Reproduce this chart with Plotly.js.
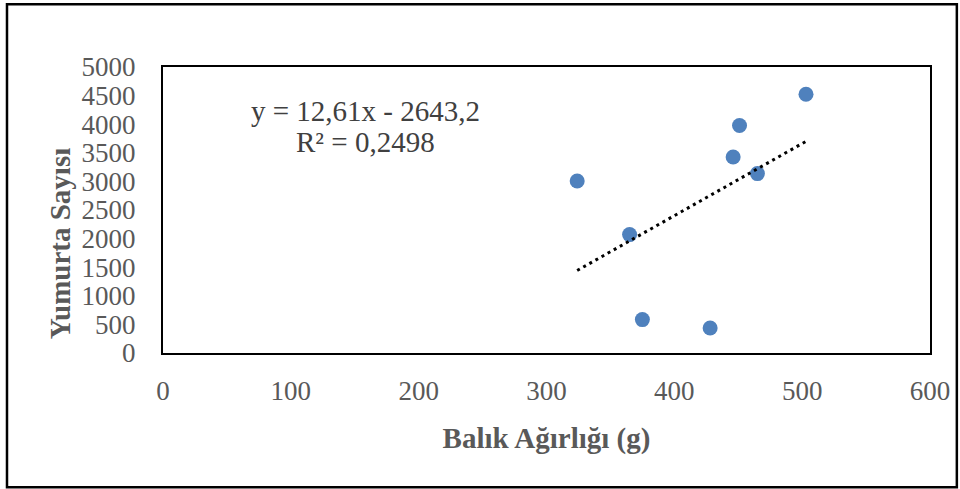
<!DOCTYPE html>
<html>
<head>
<meta charset="utf-8">
<script src="https://cdn.plot.ly/plotly-3.0.1.min.js"></script>
<style>html,body{margin:0;padding:0;background:#fff;}#chart{width:960px;height:489px;}</style>
</head>
<body>
<div id="chart"></div>
<script>
// Data
const balikAgirligi = [324, 365, 375, 428, 446, 451, 465, 503];
const yumurtaSayisi = [3007, 2070, 584, 437, 3427, 3976, 3136, 4523];
const trendSlope = 12.61;
const trendIntercept = -2643.2;
const rSquared = 0.2498;
const xTicks = [0, 100, 200, 300, 400, 500, 600];
const yTicks = [0, 500, 1000, 1500, 2000, 2500, 3000, 3500, 4000, 4500, 5000];

const fmt = (v, d) => v.toFixed(d).replace('.', ',');

const xMin = Math.min(...balikAgirligi), xMax = Math.max(...balikAgirligi);
const trendX = [xMin, xMax];
const trendY = trendX.map(x => trendSlope * x + trendIntercept);

const traces = [
  {
    x: balikAgirligi, y: yumurtaSayisi, type: 'scatter', mode: 'markers',
    marker: {size: 15, color: '#4F81BD'}, hoverinfo: 'x+y', showlegend: false
  },
  {
    x: trendX, y: trendY, type: 'scatter', mode: 'lines',
    line: {color: '#000000', width: 3, dash: '3px,4px'}, showlegend: false, hoverinfo: 'skip'
  }
];

const serif = '"Liberation Serif", "Times New Roman", serif';
const tickFont = {family: serif, size: 27, color: '#595959'};
const titleFont = {family: serif, size: 29, color: '#595959', weight: 'bold'};

const eqText = 'y = ' + fmt(trendSlope, 2) + 'x - ' + fmt(Math.abs(trendIntercept), 1);
const r2Text = 'R² = ' + fmt(rSquared, 4);

const layout = {
  width: 960, height: 489,
  margin: {l: 163, r: 30, t: 67, b: 136},
  paper_bgcolor: '#ffffff', plot_bgcolor: '#ffffff',
  showlegend: false,
  xaxis: {
    range: [0, 600], tickvals: xTicks, ticktext: xTicks.map(String),
    showgrid: false, zeroline: false, showline: true, mirror: true,
    linecolor: '#000000', linewidth: 2, ticks: '', tickfont: tickFont,
    ticklabelstandoff: 13,
    title: {text: 'Balık Ağırlığı (g)', font: titleFont, standoff: 22},
    automargin: false, fixedrange: true
  },
  yaxis: {
    range: [0, 5000], tickvals: yTicks, ticktext: yTicks.map(String),
    showgrid: false, zeroline: false, showline: true, mirror: true,
    linecolor: '#000000', linewidth: 2, ticks: '', tickfont: tickFont,
    ticklabelstandoff: 20,
    automargin: false, fixedrange: true
  },
  annotations: [
    {xref: 'paper', yref: 'paper', x: -0.1343, y: 0.3836, text: 'Yumurta Sayısı', showarrow: false,
     textangle: -90, xanchor: 'center', yanchor: 'middle', font: titleFont},
    {xref: 'paper', yref: 'paper', x: 0.2634, y: 0.845, text: eqText, showarrow: false,
     xanchor: 'center', yanchor: 'middle',
     font: {family: serif, size: 29, color: '#404040'}},
    {xref: 'paper', yref: 'paper', x: 0.2634, y: 0.738, text: r2Text, showarrow: false,
     xanchor: 'center', yanchor: 'middle',
     font: {family: serif, size: 29, color: '#404040'}}
  ],
  shapes: [
    {type: 'rect', xref: 'paper', yref: 'paper', x0: -0.2034, x1: 1.035, y0: -0.4696, y1: 1.2192,
     line: {color: '#000000', width: 2.5}, fillcolor: 'rgba(0,0,0,0)', layer: 'below'}
  ]
};

Plotly.newPlot('chart', traces, layout, {displayModeBar: false, staticPlot: true});
</script>
</body>
</html>
